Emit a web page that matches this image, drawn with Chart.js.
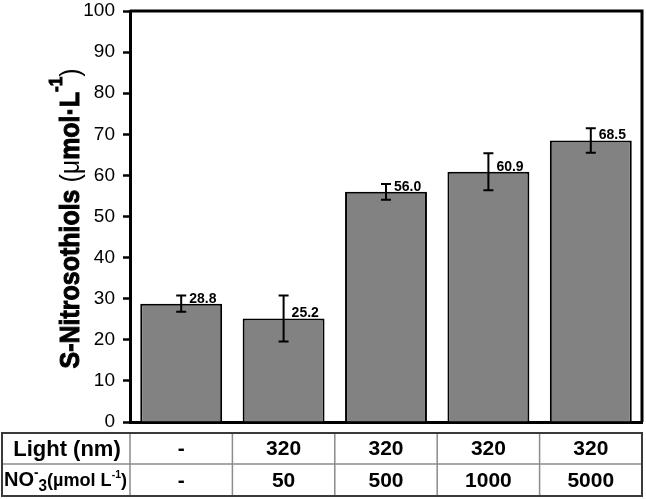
<!DOCTYPE html>
<html>
<head>
<meta charset="utf-8">
<script src="https://cdn.jsdelivr.net/npm/chart.js@4.4.0/dist/chart.umd.min.js"></script>
<style>
  html, body { margin: 0; padding: 0; background: #fff; }
</style>
</head>
<body>
<canvas id="chart" width="646" height="499"></canvas>
<script>
// data
const groups = ['1', '2', '3', '4', '5'];
const lightRow = ['-', '320', '320', '320', '320'];
const nitrateRow = ['-', '50', '500', '1000', '5000'];
const means = [28.8, 25.2, 56.0, 60.9, 68.5];
const errors = [2.0, 5.6, 1.9, 4.5, 3.0];
const yMin = 0, yMax = 100, yStep = 10;

const FONT = "'Liberation Sans', Arial, sans-serif";

// draw a run of text pieces (for sub/superscripts), returns width
function richWidth(ctx, segs) {
    let w = 0;
    segs.forEach(s => { ctx.font = s.font; w += ctx.measureText(s.t).width; });
    return w;
}
function drawRich(ctx, segs, x, y, thick) {
    segs.forEach(s => {
        ctx.font = s.font;
        ctx.fillText(s.t, x, y + (s.dy || 0));
        if (thick && s.heavy) ctx.strokeText(s.t, x, y + (s.dy || 0));
        x += ctx.measureText(s.t).width;
    });
}

const frame = {
    id: 'frame',
    afterDraw(chart) {
        const {ctx, chartArea: a} = chart;
        ctx.save();
        ctx.strokeStyle = '#000';
        ctx.lineWidth = 3;
        ctx.beginPath();
        ctx.moveTo(a.left, a.top);
        ctx.lineTo(a.right, a.top);
        ctx.lineTo(a.right, a.bottom);
        ctx.stroke();
        ctx.restore();
    }
};

const errorBars = {
    id: 'errorBars',
    afterDatasetsDraw(chart) {
        const ctx = chart.ctx;
        const y = chart.scales.y;
        const meta = chart.getDatasetMeta(0);
        ctx.save();
        ctx.strokeStyle = '#000';
        ctx.lineWidth = 2;
        ctx.fillStyle = '#000';
        meta.data.forEach((bar, i) => {
            const top = y.getPixelForValue(means[i] + errors[i]);
            const bot = y.getPixelForValue(means[i] - errors[i]);
            ctx.beginPath();
            ctx.moveTo(bar.x, top); ctx.lineTo(bar.x, bot);
            ctx.moveTo(bar.x - 5, top); ctx.lineTo(bar.x + 5, top);
            ctx.moveTo(bar.x - 5, bot); ctx.lineTo(bar.x + 5, bot);
            ctx.stroke();
            ctx.font = 'bold 14px ' + FONT;
            ctx.textAlign = 'left';
            ctx.textBaseline = 'alphabetic';
            ctx.fillText(means[i].toFixed(1), bar.x + 8, bar.y - 1);
        });
        ctx.restore();
    }
};

const yTitle = {
    id: 'yTitle',
    afterDraw(chart) {
        const ctx = chart.ctx;
        const a = chart.chartArea;
        const b = 'bold 28px ' + FONT;
        const r = '28px ' + FONT;
        const segs = [
            {t: 'S-Nitrosothiols ', font: b, heavy: true},
            {t: '(μ', font: r},
            {t: 'mol·L', font: b, heavy: true},
            {t: '-1', font: 'bold 19px ' + FONT, dy: -17, heavy: true},
            {t: ')', font: r}
        ];
        const w = richWidth(ctx, segs);
        const sx = 300 / w;
        ctx.save();
        ctx.fillStyle = '#000';
        ctx.strokeStyle = '#000';
        ctx.lineWidth = 1;
        ctx.textAlign = 'left';
        ctx.textBaseline = 'alphabetic';
        ctx.translate(79, (a.top + a.bottom) / 2 + 2);
        ctx.rotate(-Math.PI / 2);
        ctx.scale(sx, 1);
        drawRich(ctx, segs, -w / 2, 0, true);
        ctx.restore();
    }
};

const table = {
    id: 'table',
    afterDraw(chart) {
        const ctx = chart.ctx;
        const a = chart.chartArea;
        const x = chart.scales.x;
        const cols = [2, a.left];
        for (let i = 0; i < groups.length - 1; i++) {
            cols.push((x.getPixelForValue(i) + x.getPixelForValue(i + 1)) / 2);
        }
        cols.push(a.right);
        const rows = [433, 464, 496];

        ctx.save();
        ctx.strokeStyle = '#8c8c8c';
        ctx.lineWidth = 1.5;
        ctx.beginPath();
        cols.slice(1, -1).forEach(c => { ctx.moveTo(c, rows[0]); ctx.lineTo(c, rows[2]); });
        ctx.moveTo(cols[0], rows[1]); ctx.lineTo(cols[cols.length - 1], rows[1]);
        ctx.stroke();
        ctx.strokeStyle = '#3a3a3a';
        ctx.lineWidth = 2;
        ctx.strokeRect(cols[0], rows[0], cols[cols.length - 1] - cols[0], rows[2] - rows[0]);

        ctx.fillStyle = '#000';
        ctx.textAlign = 'center';
        ctx.textBaseline = 'middle';
        ctx.font = 'bold 22px ' + FONT;
        ctx.fillText('Light (nm)', (cols[0] + cols[1]) / 2 + 1, (rows[0] + rows[1]) / 2 + 1);

        ctx.font = 'bold 21px ' + FONT;
        for (let i = 0; i < groups.length; i++) {
            const cx = (cols[i + 1] + cols[i + 2]) / 2;
            ctx.fillText(lightRow[i], cx, (rows[0] + rows[1]) / 2 + 1);
            ctx.fillText(nitrateRow[i], cx, (rows[1] + rows[2]) / 2 + 1);
        }

        // NO3- (µmol L-1) label with sub/superscripts
        const segs = [
            {t: 'NO', font: 'bold 21px ' + FONT},
            {t: '-', font: 'bold 14px ' + FONT, dy: -9},
            {t: '3', font: 'bold 16px ' + FONT, dy: 5},
            {t: '(µmol L', font: 'bold 19px ' + FONT},
            {t: '-1', font: 'bold 11px ' + FONT, dy: -8},
            {t: ')', font: 'bold 19px ' + FONT}
        ];
        const w = richWidth(ctx, segs);
        const room = cols[1] - cols[0] - 5;
        const sx = Math.min(1, room / w);
        ctx.textAlign = 'left';
        ctx.textBaseline = 'alphabetic';
        ctx.translate(cols[0] + 2, 0);
        ctx.scale(sx, 1);
        drawRich(ctx, segs, 0, 486);
        ctx.restore();
    }
};

new Chart(document.getElementById('chart'), {
    type: 'bar',
    data: {
        labels: groups,
        datasets: [{
            data: means,
            backgroundColor: '#828282',
            borderColor: '#000',
            borderWidth: 2,
            barPercentage: 0.8,
            categoryPercentage: 1.0
        }]
    },
    options: {
        responsive: false,
        animation: false,
        layout: { padding: { left: 0, right: 4, top: 11, bottom: 0 } },
        plugins: {
            legend: { display: false },
            tooltip: { enabled: false }
        },
        scales: {
            x: {
                ticks: { display: false },
                grid: { display: true, drawOnChartArea: false, drawTicks: false },
                border: { display: true, color: '#000', width: 3 },
                afterFit(scale) { scale.height = 77; }
            },
            y: {
                min: yMin,
                max: yMax,
                ticks: {
                    stepSize: yStep,
                    color: '#000',
                    padding: 8,
                    font: { family: FONT, size: 19 }
                },
                grid: { drawOnChartArea: false, drawTicks: true, tickLength: 7, tickWidth: 2.5, color: '#000' },
                border: { display: true, color: '#000', width: 3 },
                afterFit(scale) {
                    scale.width = 130;
                    scale.paddingTop = 0;
                    scale.paddingBottom = 0;
                }
            }
        }
    },
    plugins: [frame, errorBars, yTitle, table]
});
</script>
</body>
</html>
